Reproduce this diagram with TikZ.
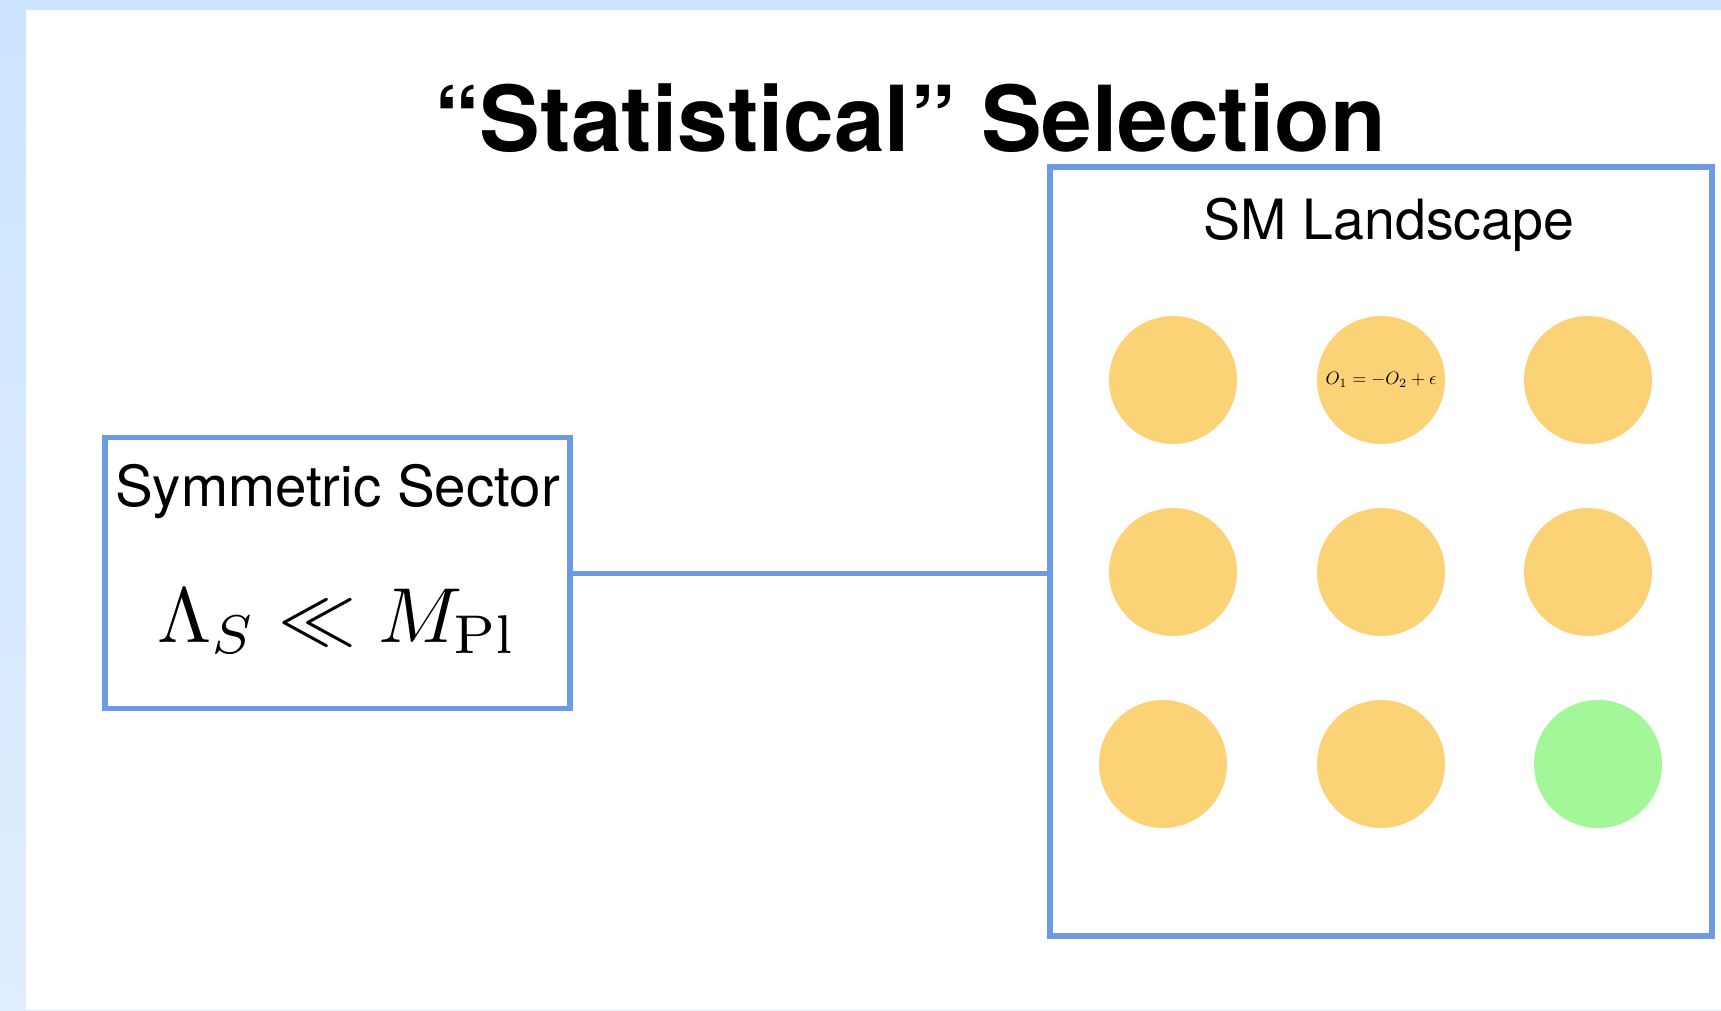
\RequirePackage{fix-cm}
\documentclass[tikz,border=0pt]{standalone}
\usepackage{graphicx}
\usepackage[no-math]{fontspec}
\setmainfont{TeX Gyre Heros}
\definecolor{bgtop}{HTML}{CCE4FF}
\definecolor{bgbot}{HTML}{E0EEFF}
\definecolor{boxblue}{HTML}{6C9BE3}
\definecolor{dotorange}{HTML}{FCD277}
\definecolor{dotgreen}{HTML}{A3F798}
\tikzset{
  frame/.style={draw=boxblue, line width=5.5pt, rectangle, inner sep=0pt},
  dot/.style={circle, fill=dotorange, minimum size=128pt, inner sep=0pt},
  gooddot/.style={dot, fill=dotgreen},
  link/.style={draw=boxblue, line width=5pt}
}
\begin{document}
\begin{tikzpicture}[x=1pt,y=-1pt]
\useasboundingbox (0,0) rectangle (1721,1010);
\shade[top color=bgtop,bottom color=bgbot] (0,0) rectangle (1721,1010);
\fill[white] (26,10) rectangle (1721,1010);

\node[anchor=base, font=\fontsize{91}{96}\selectfont\bfseries] (title) at (910,151) {“Statistical” Selection};

% symmetric sector box
\node[frame, minimum width=465pt, minimum height=271pt] (sym) at (337.5,573) {};
\node[anchor=base, font=\fontsize{56.5}{60}\selectfont] (symlabel) at (337.5,506) {Symmetric Sector};
\node[anchor=base, inner sep=0pt] (symformula) at (337.5,642) {\scalebox{7.8}{$\Lambda_S \ll M_{\mathrm{Pl}}$}};

% landscape box
\node[frame, minimum width=662pt, minimum height=769pt] (land) at (1381,551.5) {};
\node[anchor=base, font=\fontsize{55.5}{60}\selectfont] (landlabel) at (1389,239) {SM Landscape};

% vacua
\node[dot] (c11) at (1173,380) {};
\node[dot] (c12) at (1381,380) {\scalebox{1.8}{$O_1=-O_2+\epsilon$}};
\node[dot] (c13) at (1588,380) {};
\node[dot] (c21) at (1173,572) {};
\node[dot] (c22) at (1381,572) {};
\node[dot] (c23) at (1588,572) {};
\node[dot] (c31) at (1163,764) {};
\node[dot] (c32) at (1381,764) {};
\node[gooddot] (c33) at (1598,764) {};

% connector
\draw[link] (sym.east) -- (sym.east -| land.west);
\end{tikzpicture}
\end{document}
